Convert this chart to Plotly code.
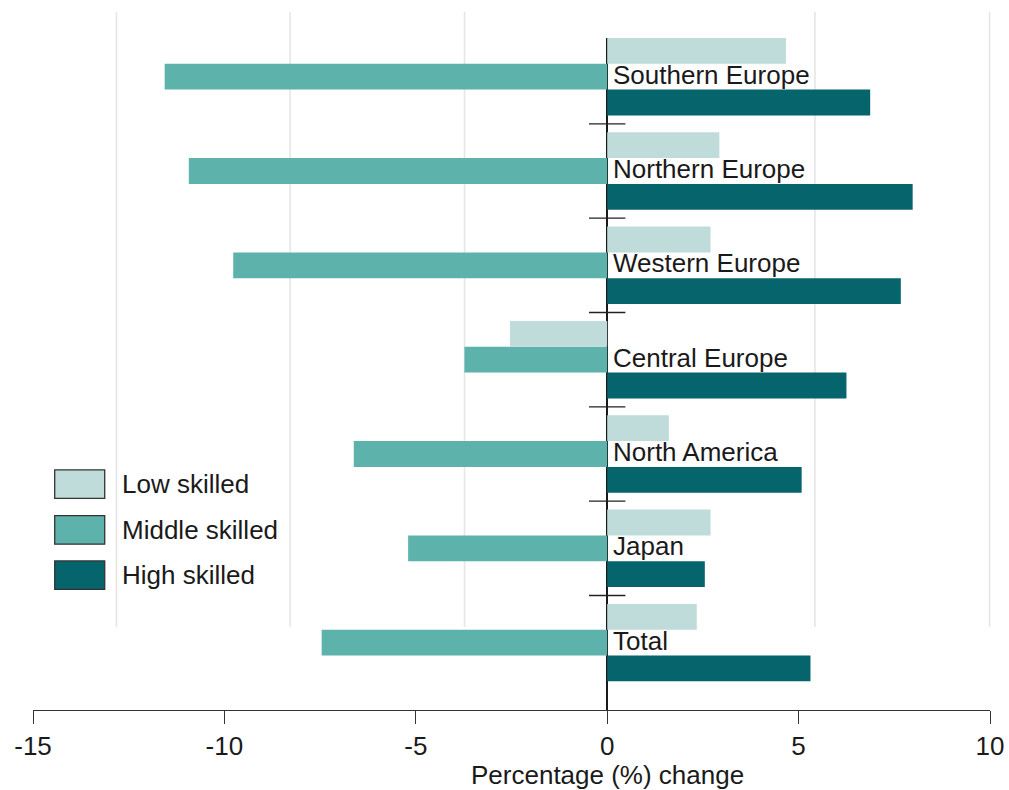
import plotly.graph_objects as go

# ---- data ----
regions = ["Southern Europe", "Northern Europe", "Western Europe", "Central Europe",
           "North America", "Japan", "Total"]
low_skilled = [4.67, 2.93, 2.70, -2.54, 1.61, 2.70, 2.34]
middle_skilled = [-11.56, -10.93, -9.77, -3.73, -6.62, -5.20, -7.46]
high_skilled = [6.87, 7.98, 7.67, 6.25, 5.08, 2.55, 5.31]
series_names = ["Low skilled", "Middle skilled", "High skilled"]
series_colors = ["#bfdcdb", "#5db3ab", "#05646c"]
x_ticks = [-15, -10, -5, 0, 5, 10]
x_tick_labels = ["-15", "-10", "-5", "0", "5", "10"]

W, H = 1009, 790
L, R, T, B = 33.3, 19.0, 38.3, 80.0
PW, PH = W - L - R, H - T - B
FONT = "Liberation Sans"
TXT = "#1a1a1a"
FS = 26

def px_x(px):
    return (px - L) / PW

def px_y(py):
    return (H - B - py) / PH

n = len(regions)
ypos = [n - 1 - i for i in range(n)]  # top category highest

fig = go.Figure()
# add in reverse so Low skilled sits at the top of each group
for name, vals, col in reversed(list(zip(series_names,
                                         [low_skilled, middle_skilled, high_skilled],
                                         series_colors))):
    fig.add_trace(go.Bar(y=ypos, x=vals, orientation="h", name=name,
                         marker=dict(color=col, line=dict(width=0)),
                         showlegend=False, hoverinfo="x+name"))

# crossing separator ticks on the zero line between groups
sep = [i + 0.5 for i in range(n - 1)]
fig.add_trace(go.Scatter(x=[0] * len(sep), y=sep, mode="markers", showlegend=False,
                         hoverinfo="skip",
                         marker=dict(symbol="line-ew", size=26,
                                     line=dict(color="#222222", width=1.3))))

annotations = []
for r, yv in zip(regions, ypos):
    annotations.append(dict(x=0, y=yv, xref="x", yref="y", text=r, showarrow=False,
                            xanchor="left", yanchor="middle", xshift=4, yshift=2,
                            font=dict(family=FONT, size=FS, color=TXT)))

annotations.append(dict(x=0, y=px_y(775), xref="x", yref="paper",
                        text="Percentage (%) change", showarrow=False,
                        xanchor="center", yanchor="middle",
                        font=dict(family=FONT, size=FS, color=TXT)))

shapes = []
# background vertical gridlines
for gx in [116.7, 290.3, 464.7, 815.0, 989.6]:
    shapes.append(dict(type="line", xref="paper", yref="paper",
                       x0=px_x(gx), x1=px_x(gx), y0=px_y(627), y1=px_y(12),
                       line=dict(color="#e6e6e6", width=1.6), layer="below"))

# custom legend
leg_tops = [470, 515.7, 561]
for name, col, top in zip(series_names, series_colors, leg_tops):
    shapes.append(dict(type="rect", xref="paper", yref="paper",
                       x0=px_x(55), x1=px_x(105), y0=px_y(top + 28.5), y1=px_y(top),
                       fillcolor=col, line=dict(color="#333333", width=1.3)))
    annotations.append(dict(x=px_x(120), y=px_y(top + 14.5), xref="paper", yref="paper",
                            text=name, showarrow=False, xanchor="left", yanchor="middle",
                            font=dict(family=FONT, size=FS, color=TXT)))

fig.update_layout(
    width=W, height=H, autosize=False,
    margin=dict(l=L, r=R, t=T, b=B, pad=0, autoexpand=False),
    paper_bgcolor="white", plot_bgcolor="white",
    barmode="group", bargap=0.179, bargroupgap=0,
    annotations=annotations, shapes=shapes,
    showlegend=False,
    xaxis=dict(range=[-15, 10], tickvals=x_ticks, ticktext=x_tick_labels,
               showgrid=False, zeroline=True, zerolinecolor="#1a1a1a", zerolinewidth=1.5,
               showline=True, linecolor="#333333", linewidth=1.3, automargin=False,
               ticks="outside", ticklen=13, tickwidth=1.2, tickcolor="#333333",
               tickfont=dict(family=FONT, size=FS, color=TXT), fixedrange=True),
    yaxis=dict(range=[-0.714, 6.41], showgrid=False, zeroline=False, showline=False,
               showticklabels=False, ticks="", fixedrange=True, automargin=False),
)

fig.write_html("out.html", config={"displayModeBar": False},
               post_script="document.body.style.margin='0';document.body.style.overflow='hidden';")
